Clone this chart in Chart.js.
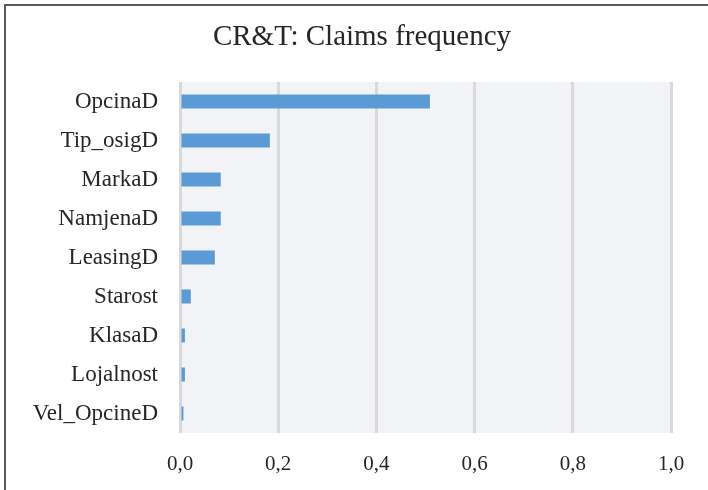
<!DOCTYPE html>
<html>
<head>
<meta charset="utf-8">
<script src="https://cdn.jsdelivr.net/npm/chart.js@4.4.0/dist/chart.umd.min.js"></script>
<style>
  html, body { margin: 0; padding: 0; background: #ffffff; }
  #wrap { position: relative; width: 708px; height: 490px; }
</style>
</head>
<body>
<div id="wrap"><canvas id="chart"></canvas></div>
<script>
// Variables, top to bottom as they appear
const categories = ['OpcinaD', 'Tip_osigD', 'MarkaD', 'NamjenaD', 'LeasingD', 'Starost', 'KlasaD', 'Lojalnost', 'Vel_OpcineD'];
// Relative importance
const importance = [0.509, 0.183, 0.083, 0.083, 0.071, 0.022, 0.010, 0.010, 0.007];
const xTicks = [0, 0.2, 0.4, 0.6, 0.8, 1.0];
const chartTitle = 'CR&T: Claims frequency';

const serif = "'Liberation Serif', 'DejaVu Serif', serif";

// Plot area fill, frame lines on the top and left edges, and the title
const framePlugin = {
    id: 'frame',
    beforeDraw(chart) {
        const ctx = chart.ctx;
        const a = chart.chartArea;
        ctx.save();
        ctx.fillStyle = '#f2f3f6';
        ctx.fillRect(a.left, a.top, a.right - a.left, a.bottom - a.top);
        ctx.strokeStyle = '#5a5a5a';
        ctx.lineWidth = 2;
        ctx.beginPath();
        ctx.moveTo(5, chart.height);
        ctx.lineTo(5, 5);
        ctx.lineTo(chart.width, 5);
        ctx.stroke();
        // title is centred a little right of the canvas centre in the original
        ctx.fillStyle = '#262626';
        ctx.font = '29px ' + serif;
        ctx.textAlign = 'center';
        ctx.textBaseline = 'middle';
        ctx.fillText(chartTitle, 362, 37);
        ctx.restore();
    }
};

new Chart(document.getElementById('chart'), {
    type: 'bar',
    data: {
        labels: categories,
        datasets: [{
            data: importance,
            backgroundColor: '#5b9bd5',
            borderWidth: 0,
            categoryPercentage: 1,
            barPercentage: 0.36
        }]
    },
    plugins: [framePlugin],
    options: {
        indexAxis: 'y',
        responsive: true,
        maintainAspectRatio: false,
        animation: false,
        layout: { padding: { left: 0, right: 37, top: 82, bottom: 0 } },
        plugins: {
            legend: { display: false },
            tooltip: { enabled: false },
            title: { display: false }
        },
        scales: {
            x: {
                min: 0,
                max: 1,
                afterBuildTicks(scale) {
                    scale.ticks = xTicks.map(v => ({ value: v }));
                },
                afterFit(scale) { scale.height = 57; },
                grid: { color: '#d9d9d9', lineWidth: 3, drawTicks: false },
                border: { display: false },
                ticks: {
                    padding: 19,
                    color: '#262626',
                    font: { family: serif, size: 21 },
                    callback: v => v.toFixed(1).replace('.', ',')
                }
            },
            y: {
                afterFit(scale) { scale.width = 180; },
                grid: { display: false },
                border: { display: false },
                ticks: {
                    padding: 14,
                    color: '#262626',
                    font: { family: serif, size: 23 }
                }
            }
        }
    }
});
</script>
</body>
</html>
